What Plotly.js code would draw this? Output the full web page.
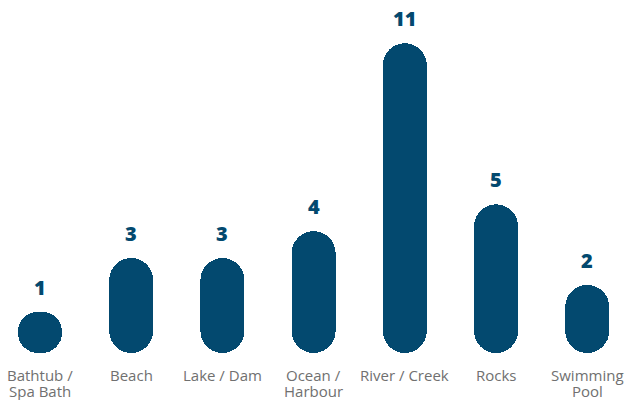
<!DOCTYPE html>
<html>
<head>
<meta charset="utf-8">
<script src="https://cdn.plot.ly/plotly-3.0.1.min.js"></script>
<style>html,body{margin:0;padding:0;background:#fff;}#chart{width:625px;height:400px;}</style>
</head>
<body>
<div id="chart"></div>
<script>
var categories = ["Bathtub /<br>Spa Bath", "Beach", "Lake / Dam", "Ocean /<br>Harbour", "River / Creek", "Rocks", "Swimming<br>Pool"];
var values = [1, 3, 3, 4, 11, 5, 2];

var barColor = "#03496f";
var labelColor = "#707070";
var pad = 0.536;            // pill extends a little below zero (rounded bottom cap)
var xs = categories.map(function (c, i) { return i; });

// Two overlapping bars per category: one grows upward (rounded top),
// one grows downward from the value (rounded bottom) -> pill shape.
var upTrace = {
  type: "bar", x: xs,
  base: values.map(function () { return -pad; }),
  y: values.map(function (v) { return v + pad; }),
  width: 0.4825, hoverinfo: "skip", showlegend: false,
  marker: { color: barColor, cornerradius: "50%" }
};
var downTrace = {
  type: "bar", x: xs,
  base: values,
  y: values.map(function (v) { return -(v + pad); }),
  width: 0.4825, hoverinfo: "skip", showlegend: false,
  marker: { color: barColor, cornerradius: "50%" }
};

var annotations = values.map(function (v, i) {
  return {
    x: i, y: v, xref: "x", yref: "y",
    text: String(v), showarrow: false,
    yanchor: "bottom", yshift: 9,
    font: { family: "Open Sans, sans-serif", size: 20, color: barColor, weight: 800 }
  };
});

// Category labels: one annotation per text line (tighter line spacing than tick labels allow)
categories.forEach(function (c, i) {
  c.split("<br>").forEach(function (line, j) {
    annotations.push({
      x: i, y: 0, xref: "x", yref: "paper",
      text: line, showarrow: false,
      xanchor: "center", yanchor: "middle",
      yshift: -22 - 16 * j,
      font: { family: "Open Sans, sans-serif", size: 15, color: labelColor, weight: 400 }
    });
  });
});

var layout = {
  width: 625, height: 400,
  margin: { l: 0, r: 0, t: 0, b: 47, pad: 0 },
  paper_bgcolor: "#fff", plot_bgcolor: "#fff",
  barmode: "overlay",
  bargap: 0,
  xaxis: {
    range: [-0.4386, 6.414],
    tickmode: "array", tickvals: xs,
    showticklabels: false,
    showgrid: false, zeroline: false, showline: false, ticks: "",
    fixedrange: true
  },
  yaxis: {
    range: [-pad, 12.61],
    visible: false, showgrid: false, zeroline: false,
    fixedrange: true
  },
  annotations: annotations
};

Plotly.newPlot("chart", [upTrace, downTrace], layout, { displayModeBar: false, staticPlot: true });
</script>
</body>
</html>
